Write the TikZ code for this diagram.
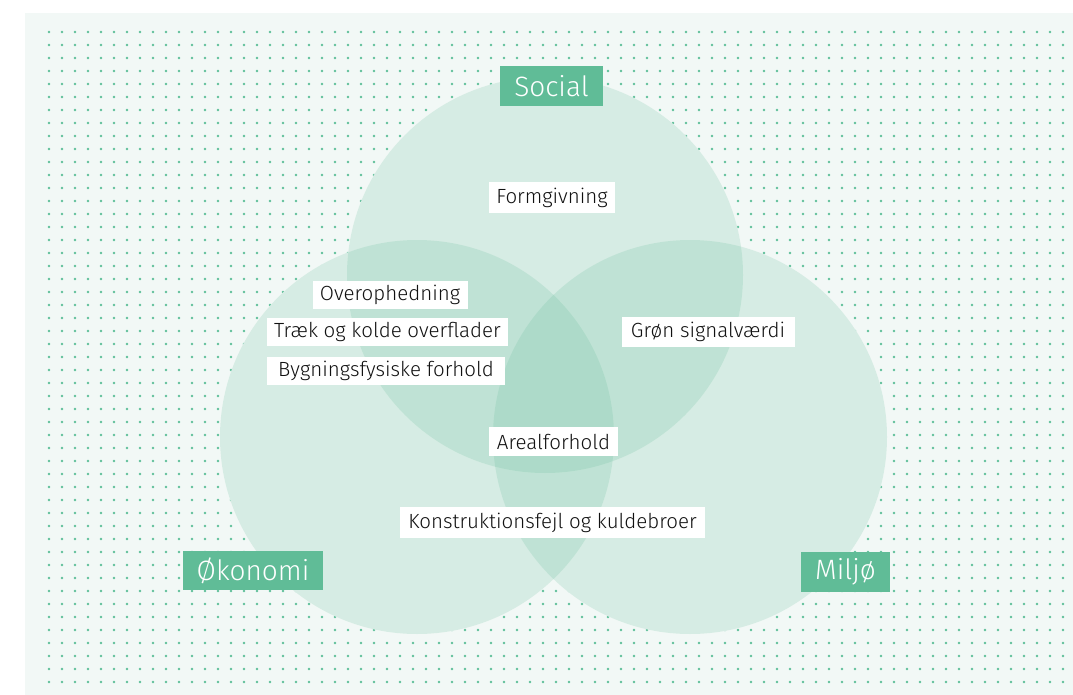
\documentclass[tikz,border=0pt]{standalone}
\usepackage{fontspec}
\setmainfont{Fira Sans Light}
\definecolor{grn}{HTML}{60BC97}
\definecolor{panel}{HTML}{F2F8F6}
\definecolor{dotc}{HTML}{5FBF99}
\definecolor{txt}{HTML}{111111}
\begin{document}
\begin{tikzpicture}[x=1pt,y=-1pt,
  grp/.style={fill=grn,text=white,inner sep=0pt,font=\fontsize{28}{31}\selectfont},
  lbl/.style={fill=white,text=txt,inner sep=0pt,font=\fontsize{20.5}{24}\selectfont},
  venn/.style={fill=grn,fill opacity=0.19}]
\useasboundingbox (0,0) rectangle (1073,695);
\fill[white] (0,0) rectangle (1073,695);
\fill[panel] (25,13) rectangle (1073,695);
\foreach \i in {0,...,78}{\foreach \j in {0,...,50}{\fill[dotc] (49+13*\i,32+13*\j) circle[radius=1.3pt];}}
% opaque base so dots are hidden
\fill[panel] (545,275) circle[radius=198pt];
\fill[panel] (417,437) circle[radius=197pt];
\fill[panel] (690,437) circle[radius=197pt];
\fill[venn] (545,275) circle[radius=198pt];
\fill[venn] (417,437) circle[radius=197pt];
\fill[venn] (690,437) circle[radius=197pt];
% group labels
\node[grp,minimum width=103pt,minimum height=40pt] (social) at (551.5,86) {Social};
\node[grp,minimum width=140pt,minimum height=39pt] (okonomi) at (253,570.5) {Økonomi};
\node[grp,minimum width=89pt,minimum height=40pt] (miljo) at (845.5,572) {Miljø};
% item labels
\node[lbl,minimum width=126pt,minimum height=31pt] (form) at (552,197.5) {Formgivning};
\node[lbl,minimum width=155pt,minimum height=28pt] (over) at (390,295) {Overophedning};
\node[lbl,minimum width=241pt,minimum height=28pt] (traek) at (387.5,331.5) {Træk og kolde overflader};
\node[lbl,minimum width=238pt,minimum height=28pt] (bygn) at (386,370.5) {Bygningsfysiske forhold};
\node[lbl,minimum width=173pt,minimum height=30pt] (gron) at (708,332) {Grøn signalværdi};
\node[lbl,minimum width=129pt,minimum height=29pt] (areal) at (553.5,441.5) {Arealforhold};
\node[lbl,minimum width=305pt,minimum height=31pt] (konst) at (552.5,522.5) {Konstruktionsfejl og kuldebroer};
\end{tikzpicture}
\end{document}
